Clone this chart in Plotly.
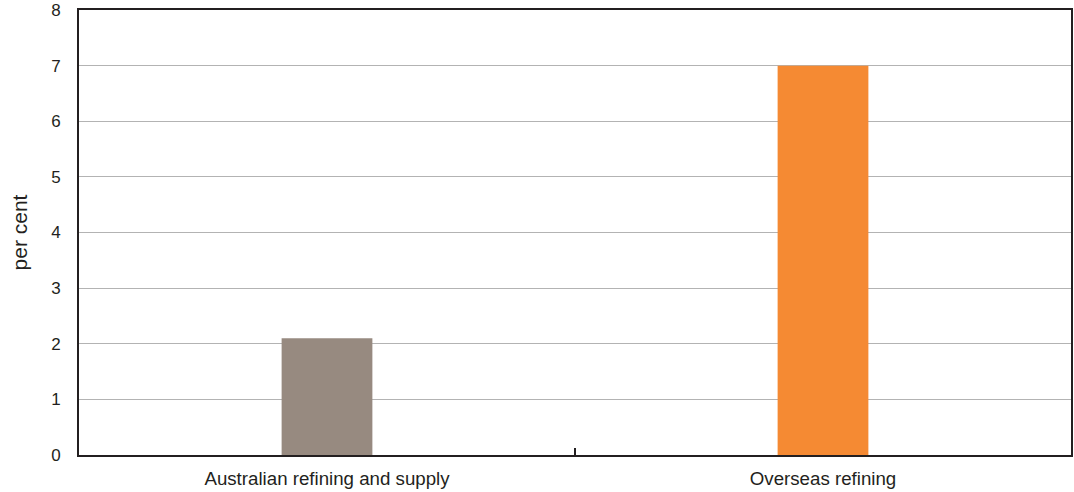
import plotly.graph_objects as go

categories = ["Australian refining and supply", "Overseas refining"]
values = [2.1, 7.0]
bar_colors = ["#978a80", "#f58a33"]

fig = go.Figure(go.Bar(x=categories, y=values, marker=dict(color=bar_colors, line=dict(width=0)), width=0.183))

fig.update_layout(
    width=1074, height=492,
    margin=dict(l=79, r=3, t=10, b=37),
    paper_bgcolor="white", plot_bgcolor="white",
    font=dict(family="Liberation Sans, Arial, sans-serif", size=17, color="#231f20"),
    showlegend=False,
)
fig.update_yaxes(
    range=[0, 8], dtick=1, showgrid=True, gridcolor="#b3b3b3", gridwidth=1,
    showline=True, linecolor="#231f20", linewidth=2, mirror=True,
    ticks="", ticklabelstandoff=13, zeroline=False, automargin=False,
    tickfont=dict(size=17),
    title=dict(text="per cent", standoff=18, font=dict(size=21)),
)
fig.update_xaxes(
    showline=True, linecolor="#231f20", linewidth=2, mirror=True,
    ticks="inside", ticklen=7, tickcolor="#231f20", tickwidth=1.5, tickson="boundaries",
    ticklabelstandoff=6, automargin=False, tickfont=dict(size=18.7),
)
fig.write_html(
    "out.html",
    config={"displayModeBar": False},
    post_script="document.body.style.margin='0';document.body.style.overflow='hidden';"
                "Plotly.Plots.resize(document.getElementById('{plot_id}'));",
)
